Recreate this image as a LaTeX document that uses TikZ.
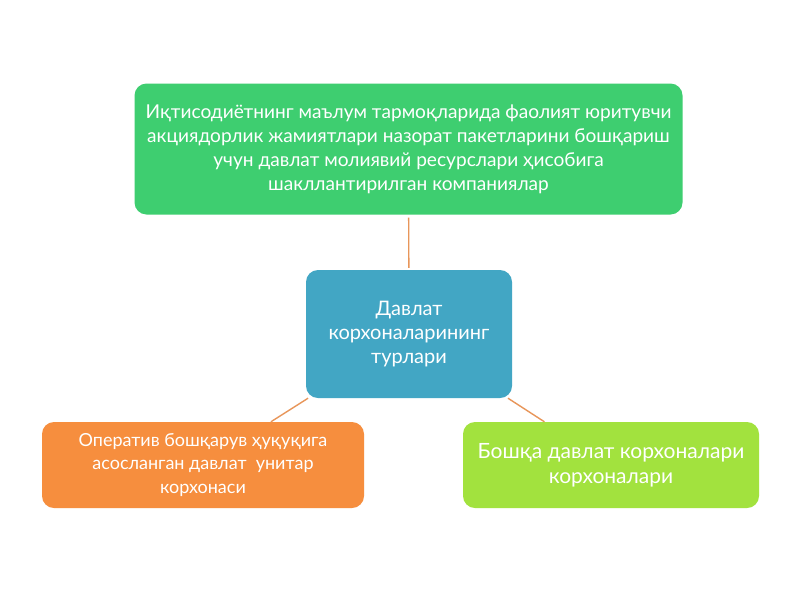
\documentclass[tikz,border=0pt]{standalone}
\usepackage{fontspec}
\setmainfont{Lato}
\definecolor{topgreen}{RGB}{62,206,112}
\definecolor{midblue}{RGB}{66,166,196}
\definecolor{leftorange}{RGB}{246,142,62}
\definecolor{rightlime}{RGB}{162,226,62}
\definecolor{linkcol}{RGB}{232,150,90}
\begin{document}
\begin{tikzpicture}[x=1pt,y=-1pt,
  boxbase/.style={rounded corners=12pt,inner sep=0pt,align=center,text=white,
    font=\fontsize{19.1}{24}\selectfont},
  link/.style={draw=linkcol,line width=1.4pt}]
\useasboundingbox (0,0) rectangle (800,600);
\fill[white] (0,0) rectangle (800,600);
\node[boxbase,fill=topgreen,minimum width=548pt,minimum height=131pt] (top) at (408.5,149)
  {Иқтисодиётнинг маълум тармоқларида фаолият юритувчи\\акциядорлик жамиятлари назорат пакетларини бошқариш\\учун давлат молиявий ресурслари ҳисобига\\шакллантирилган компаниялар};
\node[boxbase,fill=midblue,minimum width=206pt,minimum height=128pt,
  font=\fontsize{20}{24}\selectfont] (mid) at (409,334)
  {Давлат\\корхоналарининг\\турлари};
\node[boxbase,fill=leftorange,minimum width=322pt,minimum height=86pt,
  font=\fontsize{18}{23.5}\selectfont] (left) at (203,465)
  {Оператив бошқарув ҳуқуқига\\асосланган давлат\ \ унитар\\корхонаси};
\node[boxbase,fill=rightlime,minimum width=296pt,minimum height=86pt,
  font=\fontsize{21}{25}\selectfont] (right) at (611,465)
  {Бошқа давлат корхоналари\\корхоналари};
\draw[link,shorten >=2pt,shorten <=3pt] (top) -- (mid);
\draw[link] (mid) -- (left);
\draw[link] (mid) -- (right);
\end{tikzpicture}
\end{document}
